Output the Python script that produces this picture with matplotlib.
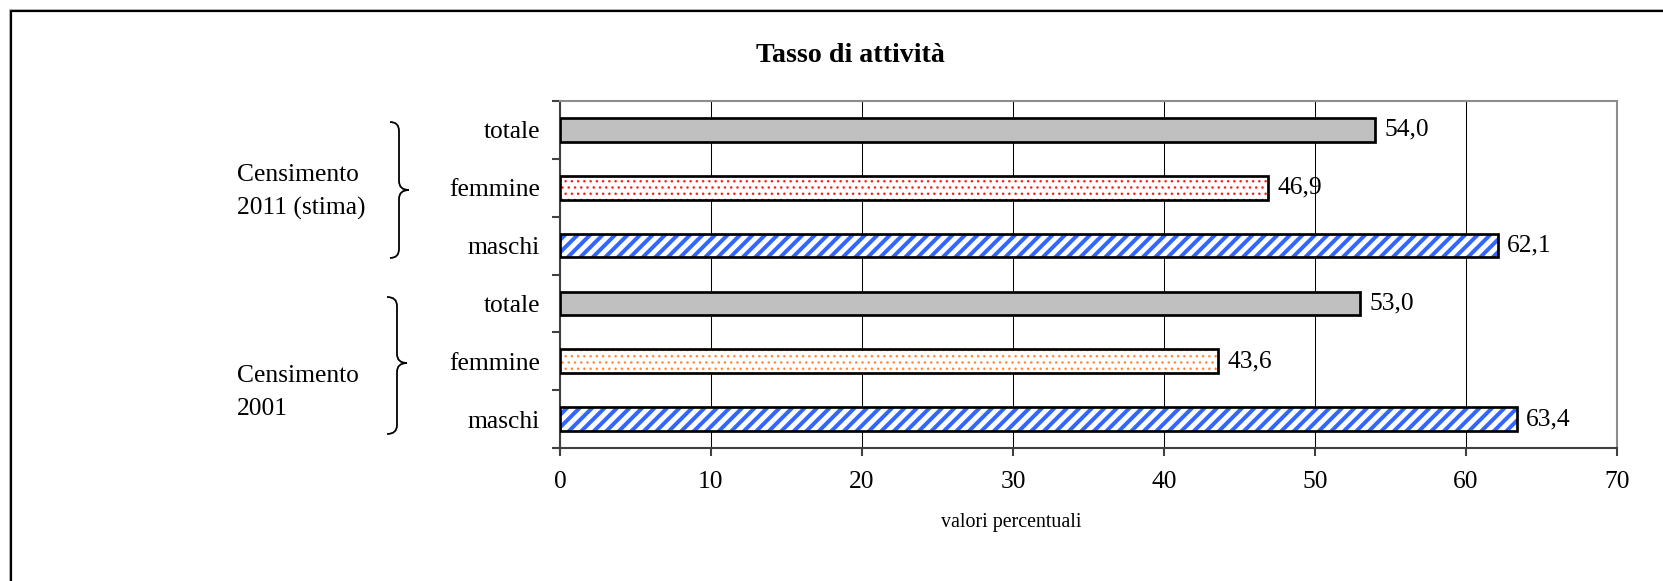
import matplotlib
matplotlib.use("Agg")
import matplotlib.pyplot as plt
from matplotlib.path import Path
from matplotlib.patches import PathPatch

# data, top to bottom as in the chart
categories = ["totale", "femmine", "maschi", "totale", "femmine", "maschi"]
values = [54.0, 46.9, 62.1, 53.0, 43.6, 63.4]
group_labels = [["Censimento", "2011 (stima)"], ["Censimento", "2001"]]
x_ticks = [0, 10, 20, 30, 40, 50, 60, 70]

# styles per bar (face, hatch colour, hatch)
styles = [
    ("#C0C0C0", "#C0C0C0", None),
    ("white", "#FF2020", "...."),
    ("white", "#3366FF", "////"),
    ("#C0C0C0", "#C0C0C0", None),
    ("white", "#FF8A3D", "...."),
    ("white", "#3366FF", "////"),
]

W, H, DPI = 1663, 581, 150
plt.rcParams["font.family"] = ["Liberation Serif", "DejaVu Serif"]


def px(v):
    # pixels -> points
    return v * 72.0 / DPI


fig = plt.figure(figsize=(W / DPI, H / DPI), dpi=DPI)

# overlay in pixel coords for frame, braces, free texts
ov = fig.add_axes([0, 0, 1, 1])
ov.set_xlim(0, W)
ov.set_ylim(H, 0)
ov.set_axis_off()

ax = fig.add_axes([560 / W, 1 - 448 / H, (1617 - 560) / W, (448 - 101) / H])

ypos = list(range(len(categories)))
for y, v, (fc, hc, hatch) in zip(ypos, values, styles):
    b = ax.barh(y, v, height=0.41, color=fc, edgecolor=hc, hatch=hatch,
                linewidth=0, zorder=2)
    if hatch:
        try:
            b.patches[0].set_hatch_linewidth(1.9 if "/" in hatch else 0.6)
        except AttributeError:
            pass
    outline = ax.barh(y, v, height=0.41, fill=False, edgecolor="black",
                      linewidth=1.3, zorder=3)
    ax.bar_label(outline, labels=[f"{v:.1f}".replace(".", ",")],
                 padding=px(9), fontsize=px(25.5), color="black")

ax.set_ylim(len(categories) - 0.5, -0.5)
ax.set_xlim(0, 70)
ax.set_xticks(x_ticks)
ax.set_xticklabels([str(t) for t in x_ticks])
ax.set_yticks(ypos)
ax.set_yticklabels(categories)
ax.set_yticks([i - 0.5 for i in range(len(categories) + 1)], minor=True)

ax.tick_params(axis="y", which="major", length=0, pad=px(20), labelsize=px(25.5))
ax.tick_params(axis="y", which="minor", length=px(8), width=1, color="#404040")
ax.tick_params(axis="x", which="major", length=px(8), width=1, color="#404040",
               pad=px(15), labelsize=px(25.5))

ax.grid(axis="x", color="black", linewidth=0.5, zorder=1)
ax.set_axisbelow(True)
for side in ["top", "right"]:
    ax.spines[side].set_color("#8C8C8C")
    ax.spines[side].set_linewidth(1.0)
for side in ["left", "bottom"]:
    ax.spines[side].set_color("#404040")
    ax.spines[side].set_linewidth(1.0)

# outer frame (only top and left visible in the crop)
ov.plot([10.5, 10.5, W], [H, 10.5, 10.5], color="black", linewidth=px(2.2))
ov.plot([8.5, 8.5, W], [H, 8.5, 8.5], color="#B0B0B0", linewidth=px(1))

# title and axis label
ov.text(850, 55, "Tasso di attività", ha="center", va="center",
        fontsize=px(28), fontweight="bold")
ov.text(1011, 523, "valori percentuali", ha="center", va="center",
        fontsize=px(20))


def brace(x_end, x_mid, x_tip, top, mid, bot, r=9):
    verts = [
        (x_end, top), (x_mid, top), (x_mid, top + r),
        (x_mid, mid - r),
        (x_mid, mid), (x_tip, mid),
        (x_mid, mid), (x_mid, mid + r),
        (x_mid, bot - r),
        (x_mid, bot), (x_end, bot),
    ]
    codes = [Path.MOVETO, Path.CURVE3, Path.CURVE3, Path.LINETO,
             Path.CURVE3, Path.CURVE3, Path.CURVE3, Path.CURVE3,
             Path.LINETO, Path.CURVE3, Path.CURVE3]
    ov.add_patch(PathPatch(Path(verts, codes), fill=False, edgecolor="black",
                           linewidth=px(1.8)))


brace(390, 399, 409, 122, 190, 258)
brace(387, 397, 407, 297, 363, 434)

# group labels
for lines, baselines in zip(group_labels, [(181, 215), (382, 415)]):
    for txt, yb in zip(lines, baselines):
        ov.text(237, yb, txt, ha="left", va="baseline", fontsize=px(25.5))

fig.savefig("out.png", dpi=DPI, facecolor="white")
